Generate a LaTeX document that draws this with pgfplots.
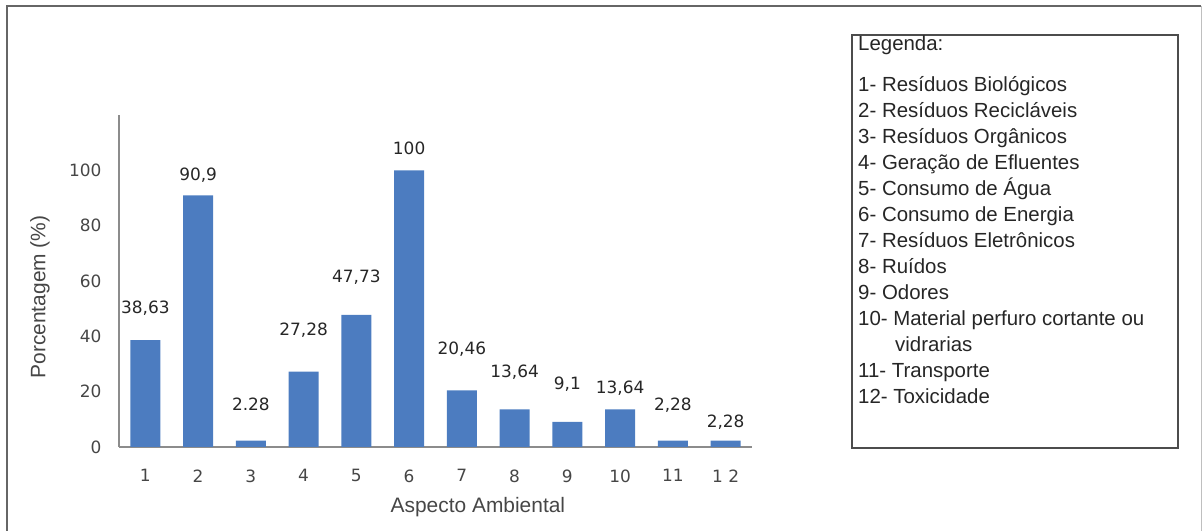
\documentclass[border=0pt]{standalone}
\usepackage{pgfplots}
\pgfplotsset{compat=1.18}
\usepackage{fontspec}
\setmainfont{Liberation Sans}
\newfontfamily\numfont{DejaVu Sans}
\definecolor{barblue}{RGB}{76,124,192}
\definecolor{ticktext}{RGB}{70,70,70}
\begin{document}
\begin{tikzpicture}[x=1bp,y=1bp]
\useasboundingbox (0,0) rectangle (1203,531);
\draw[line width=1.6bp, color=black!60] (7,0) -- (7,525) -- (1201,525);
\draw[line width=1bp, color=black!25] (1201,525) -- (1201,0);
\begin{axis}[
  at={(119bp,84bp)}, anchor=south west,
  width=633bp, height=332bp, scale only axis,
  xmin=0.5, xmax=12.5, ymin=0, ymax=120,
  axis x line*=bottom, axis y line*=left,
  axis line style={draw=black!45, line width=1.2bp, -},
  major tick length=0,
  ytick={0,20,...,100},
  xtick={1,...,12},
  xticklabels={\mbox{1},\mbox{2},\mbox{3},\mbox{4},\mbox{5},\mbox{6},\mbox{7},\mbox{8},\mbox{9},\mbox{10},\mbox{11},\mbox{1 2}},
  /pgf/number format/assume math mode=true,
  tick label style={font=\numfont\fontsize{17}{20}\selectfont, text=ticktext},
  yticklabel style={xshift=-14bp},
  xticklabel style={yshift=-19bp},
  ylabel={Porcentagem (\%)},
  ylabel style={at={(axis description cs:-0.125,0.452)}, anchor=center, font=\fontsize{21}{24}\selectfont, text=ticktext},
  xlabel={Aspecto Ambiental},
  xlabel style={at={(axis description cs:0.567,-0.181)}, anchor=center, font=\fontsize{21}{24}\selectfont, text=ticktext},
  clip=false,
]
\addplot[ybar, bar width=30bp, fill=barblue, draw=none] coordinates {
  (1,38.63) (2,90.9) (3,2.28) (4,27.28) (5,47.73) (6,100)
  (7,20.46) (8,13.64) (9,9.1) (10,13.64) (11,2.28) (12,2.28)
};
\addplot[draw=none, mark=none, nodes near coords, point meta=explicit symbolic,
  every node near coord/.append style={anchor=center, inner sep=0pt, font=\numfont\fontsize{17}{20}\selectfont, text=black!85}]
  table[meta=label] {
x y label
1 50.2 38,63
2 98.2 90,9
3 15.5 2.28
4 42.2 27,28
5 61.4 47,73
6 108 100
7 35.4 20,46
8 27.1 13,64
9 22.7 9,1
10 21.3 13,64
11 15.2 2,28
12 9.0 2,28
};
\end{axis}
\draw[line width=1.5bp, color=black!70] (852,496) rectangle (1178,83);
\node[anchor=base west, inner sep=0pt, font=\fontsize{20.5}{24}\selectfont, text=black!85] at (858,480) {Legenda:};
\foreach \t [count=\i] in {1- Resíduos Biológicos, 2- Resíduos Recicláveis, 3- Resíduos Orgânicos, 4- Geração de Efluentes, 5- Consumo de Água, 6- Consumo de Energia, 7- Resíduos Eletrônicos, 8- Ruídos, 9- Odores, 10- Material perfuro cortante ou, \hspace*{37bp}vidrarias, 11- Transporte, 12- Toxicidade}
  \node[anchor=base west, inner sep=0pt, font=\fontsize{20.5}{24}\selectfont, text=black!85] at (858,{439.5-26*(\i-1)}) {\t};
\end{tikzpicture}
\end{document}
